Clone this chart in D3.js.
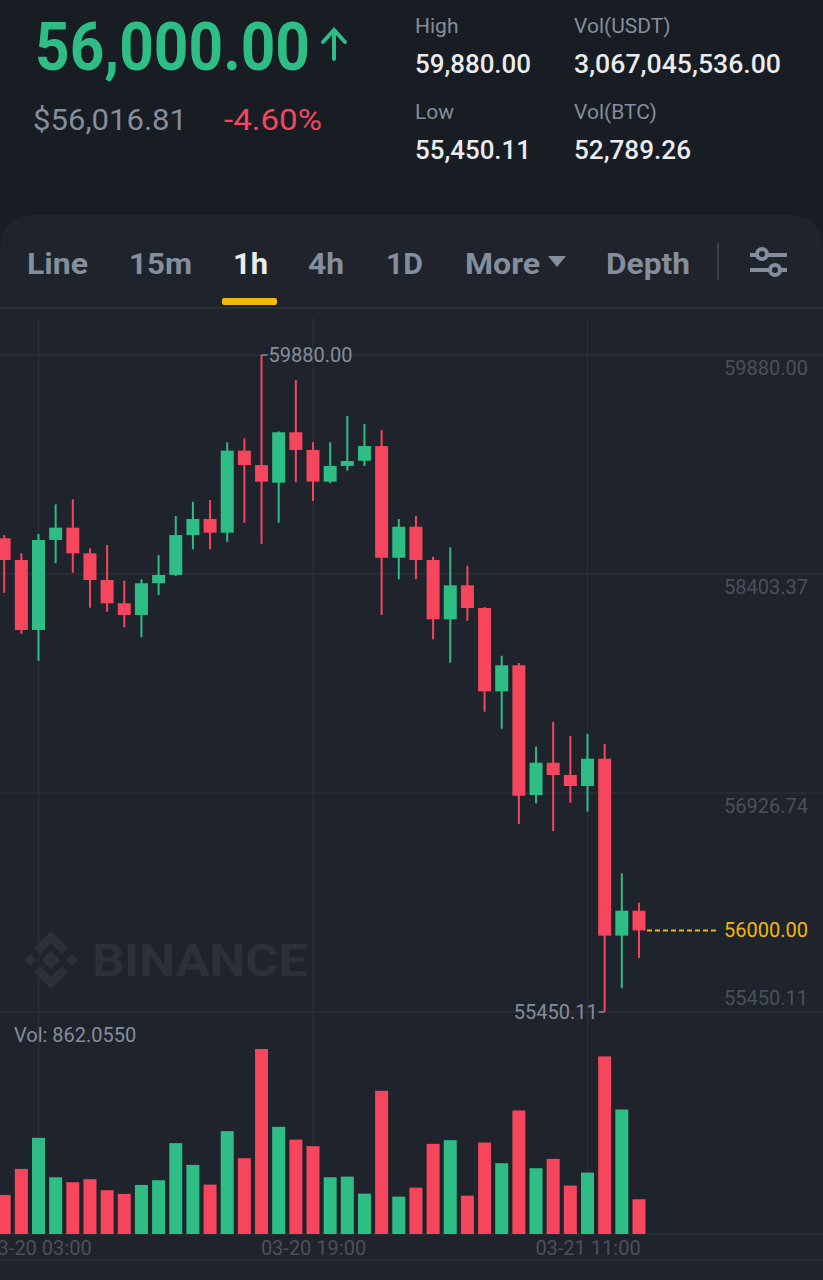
<!DOCTYPE HTML>
<html lang="en">
<head>
<meta charset="utf-8">
<title>BTC/USDT 1h</title>
<style>
html, body {
    margin: 0;
    padding: 0;
    background: #181c23;
}
svg { display: block; }
text { font-family: Roboto, "Noto Sans", sans-serif; }
</style>
</head>
<body>
<div id="chart"></div>

<script src="https://cdnjs.cloudflare.com/ajax/libs/d3/7.8.5/d3.min.js"></script>
<script>
// hourly candles, 03-20 01:00 .. 03-21 14:00
const startHour = new Date(2021, 2, 20, 1);
const open  = [58644, 58498, 58026, 58633, 58716, 58543, 58363, 58206, 58127, 58341, 58397, 58666, 58774, 58682, 59235, 59138, 59019, 59359, 59240, 59026,
               59132, 59167, 59266, 58513, 58722, 58498, 58098, 58327, 58174, 57612, 57788, 56913, 57131, 57048, 56974, 57158, 55965, 56133];
const high  = [58666, 58543, 58673, 58873, 58907, 58577, 58599, 58358, 58368, 58531, 58794, 58891, 58902, 59291, 59318, 59880, 59365, 59711, 59291, 59291,
               59469, 59415, 59374, 58774, 58794, 58520, 58583, 58459, 58180, 57852, 57803, 57239, 57407, 57311, 57325, 57257, 56385, 56187];
const low   = [58277, 57999, 57817, 58476, 58412, 58176, 58149, 58044, 57977, 58262, 58390, 58570, 58570, 58621, 58749, 58606, 58749, 59022, 58896, 59015,
               59100, 59132, 58127, 58368, 58368, 57963, 57805, 58088, 57475, 57360, 56718, 56857, 56670, 56861, 56801, 55450.11, 55610, 55814];
const close = [58498, 58026, 58633, 58716, 58543, 58363, 58206, 58127, 58341, 58397, 58666, 58774, 58682, 59235, 59138, 59026, 59359, 59240, 59026, 59132,
               59165, 59266, 58513, 58722, 58498, 58098, 58327, 58174, 57612, 57788, 56908, 57131, 57048, 56974, 57158, 55965, 56133, 56000];
const volume = [969, 1615, 2385, 1408, 1284, 1359, 1086, 994, 1217, 1334, 2253, 1714, 1225, 2551, 1880, 4588, 2658, 2342, 2178, 1408,
                1423, 1001, 3552, 927, 1150, 2236, 2327, 951, 2268, 1756, 3063, 1632, 1863, 1200, 1523, 4404, 3088, 862.055];

const priceTicks = [59880.00, 58403.37, 56926.74, 55450.11];
const timeTicks = [new Date(2021, 2, 20, 3), new Date(2021, 2, 20, 19), new Date(2021, 2, 21, 11)];
const timeTickFormat = d3.timeFormat('%m-%d %H:%M');

const lastPrice = "56,000.00";
const fiatPrice = "$56,016.81";
const change = "-4.60%";
const statLabels = ["High", "Vol(USDT)", "Low", "Vol(BTC)"];
const statValues = ["59,880.00", "3,067,045,536.00", "55,450.11", "52,789.26"];
const tabs = ["Line", "15m", "1h", "4h", "1D", "More", "Depth"];
const activeTab = "1h";

// colours
const green = '#2ebd85';
const red = '#f6465d';
const yellow = '#f0b90b';
const grey = '#848e9c';
const dim = '#4a505b';
const gridColor = '#2a2f38';

const W = 823, H = 1280;

const svg = d3.select('#chart')
  .append('svg')
  .attr('width', W)
  .attr('height', H);

svg.append('rect').attr('width', W).attr('height', H).attr('fill', '#181c23');

// chart panel with rounded top
svg.append('path')
  .attr('d', 'M0,250 Q0,215 35,215 L788,215 Q823,215 823,250 L823,1280 L0,1280 Z')
  .attr('fill', '#1f232b');

// ---- header ----
svg.append('text')
  .attr('x', 35).attr('y', 70)
  .attr('font-size', 66).attr('font-weight', 700)
  .attr('textLength', 275).attr('lengthAdjust', 'spacingAndGlyphs')
  .attr('fill', green)
  .text(lastPrice);

svg.append('path')
  .attr('d', 'M334,59 L334,31 M323,42 L334,30 L345,42')
  .attr('fill', 'none')
  .attr('stroke', green)
  .attr('stroke-width', 4)
  .attr('stroke-linecap', 'round');

svg.append('text')
  .attr('x', 33).attr('y', 130)
  .attr('font-size', 29)
  .attr('textLength', 154).attr('lengthAdjust', 'spacingAndGlyphs')
  .attr('fill', grey)
  .text(fiatPrice);

svg.append('text')
  .attr('x', 224).attr('y', 130)
  .attr('font-size', 29)
  .attr('textLength', 98).attr('lengthAdjust', 'spacingAndGlyphs')
  .attr('fill', red)
  .text(change);

const statX = [415, 574, 415, 574];
const statY = [33, 33, 119, 119];
const statW = [116, 207, 116, 117];
statLabels.forEach((s, i) => {
  svg.append('text')
    .attr('x', statX[i]).attr('y', statY[i])
    .attr('font-size', 21)
    .attr('fill', grey)
    .text(s);
  svg.append('text')
    .attr('x', statX[i]).attr('y', statY[i] + 40)
    .attr('font-size', 26).attr('font-weight', 500)
    .attr('textLength', statW[i]).attr('lengthAdjust', 'spacingAndGlyphs')
    .attr('fill', '#eaecef')
    .text(statValues[i]);
});

// ---- tab bar ----
const tabX = [27, 129, 233, 308, 386, 465, 606];
const tabW = [61, 63, 35, 36, 37, 75, 84];
const tabG = svg.append('g');
tabG.selectAll('text')
  .data(tabs)
  .enter()
  .append('text')
  .attr('x', (d, i) => tabX[i])
  .attr('y', 274)
  .attr('font-size', 30)
  .attr('font-weight', 700)
  .attr('textLength', (d, i) => tabW[i])
  .attr('lengthAdjust', 'spacingAndGlyphs')
  .attr('fill', d => d === activeTab ? '#eaecef' : grey)
  .text(d => d);

// dropdown triangle after More
svg.append('path').attr('d', 'M548,256 L566,256 L557,267 Z').attr('fill', grey);
// active underline
svg.append('rect').attr('x', 222).attr('y', 298).attr('width', 55).attr('height', 7).attr('rx', 2).attr('fill', yellow);
// divider
svg.append('line').attr('x1', 718).attr('x2', 718).attr('y1', 243).attr('y2', 280).attr('stroke', '#3a3f48').attr('stroke-width', 2);
// settings icon
const icon = svg.append('g').attr('stroke', grey).attr('stroke-width', 4).attr('fill', 'none');
icon.append('line').attr('x1', 750).attr('x2', 787).attr('y1', 255).attr('y2', 255);
icon.append('line').attr('x1', 750).attr('x2', 787).attr('y1', 270).attr('y2', 270);
icon.append('circle').attr('cx', 762).attr('cy', 254).attr('r', 5).attr('fill', '#1f232b');
icon.append('circle').attr('cx', 775).attr('cy', 270).attr('r', 5).attr('fill', '#1f232b');

svg.append('line').attr('x1', 0).attr('x2', W).attr('y1', 308).attr('y2', 308).attr('stroke', gridColor).attr('stroke-width', 2);

// ---- scales ----
const times = open.map((d, i) => d3.timeHour.offset(startHour, i));
const x = d3.scaleTime().domain([timeTicks[0], timeTicks[2]]).range([38.5, 587.5]);
const y = d3.scaleLinear().domain([priceTicks[3], priceTicks[0]]).range([1012, 355]);
const yVol = d3.scaleLinear().domain([0, d3.max(volume)]).range([1234, 1049]);

// watermark
const wm = svg.append('g').attr('fill', '#2c3139');
wm.append('g').attr('transform', 'translate(51,960)')
  .selectAll('path')
  .data([
    'M0,-9 L9,0 L0,9 L-9,0 Z',
    'M-21,-6 L-15,0 L-21,6 L-27,0 Z',
    'M21,-6 L27,0 L21,6 L15,0 Z',
    'M0,-29 L17,-12 L11,-6 L0,-17 L-11,-6 L-17,-12 Z',
    'M0,29 L17,12 L11,6 L0,17 L-11,6 L-17,12 Z'
  ])
  .enter().append('path').attr('d', d => d);
wm.append('text')
  .attr('x', 92).attr('y', 976)
  .attr('font-size', 44).attr('font-weight', 700)
  .attr('textLength', 215).attr('lengthAdjust', 'spacingAndGlyphs')
  .text('BINANCE');

// ---- grid ----
const grid = svg.append('g').attr('stroke', gridColor).attr('stroke-width', 1.5);
grid.selectAll('.hgrid')
  .data(priceTicks)
  .enter().append('line')
  .attr('x1', 0).attr('x2', W)
  .attr('y1', d => y(d)).attr('y2', d => y(d));
grid.selectAll('.vgrid')
  .data(timeTicks)
  .enter().append('line')
  .attr('x1', d => x(d)).attr('x2', d => x(d))
  .attr('y1', 318).attr('y2', 1234);
grid.append('line').attr('x1', 0).attr('x2', W).attr('y1', 1234).attr('y2', 1234);
grid.append('line').attr('x1', 0).attr('x2', W).attr('y1', 1260).attr('y2', 1260);

// price axis labels
const yAxis = d3.axisLeft(y)
  .tickValues(priceTicks)
  .tickFormat(d3.format('.2f'))
  .tickSize(0)
  .tickPadding(15);
const yAxisG = svg.append('g').attr('transform', `translate(${W},0)`).call(yAxis);
yAxisG.select('.domain').remove();
yAxisG.selectAll('text')
  .attr('font-size', 20)
  .attr('font-family', 'Roboto, sans-serif')
  .attr('fill', dim)
  .attr('dy', (d, i) => i === priceTicks.length - 1 ? '-8' : '19');

// time axis labels
const xAxis = d3.axisBottom(x)
  .tickValues(timeTicks)
  .tickFormat(timeTickFormat)
  .tickSize(0)
  .tickPadding(7);
const xAxisG = svg.append('g').attr('transform', 'translate(0,1234)').call(xAxis);
xAxisG.select('.domain').remove();
xAxisG.selectAll('text')
  .attr('font-size', 20)
  .attr('font-family', 'Roboto, sans-serif')
  .attr('fill', dim);

// ---- candles ----
const candles = open.map((o, i) => ({ t: times[i], o: o, h: high[i], l: low[i], c: close[i], v: volume[i] }));
const colorOf = d => d.c >= d.o ? green : red;
const bodyW = 13;

const cg = svg.append('g');
cg.selectAll('.wick')
  .data(candles)
  .enter().append('line')
  .attr('x1', d => x(d.t)).attr('x2', d => x(d.t))
  .attr('y1', d => y(d.h)).attr('y2', d => y(d.l))
  .attr('stroke', colorOf)
  .attr('stroke-width', 2);
cg.selectAll('.body')
  .data(candles)
  .enter().append('rect')
  .attr('x', d => x(d.t) - bodyW / 2)
  .attr('width', bodyW)
  .attr('y', d => y(Math.max(d.o, d.c)))
  .attr('height', d => Math.max(1.5, Math.abs(y(d.o) - y(d.c))))
  .attr('fill', colorOf);

// volume bars
svg.append('g').selectAll('rect')
  .data(candles)
  .enter().append('rect')
  .attr('x', d => x(d.t) - bodyW / 2)
  .attr('width', bodyW)
  .attr('y', d => yVol(d.v))
  .attr('height', d => yVol(0) - yVol(d.v))
  .attr('fill', colorOf);

svg.append('text')
  .attr('x', 14).attr('y', 1042)
  .attr('font-size', 20)
  .attr('fill', grey)
  .text('Vol: ' + d3.format('.4f')(volume[volume.length - 1]));

// high / low markers
const hiIdx = d3.maxIndex(high);
const loIdx = d3.minIndex(low);
const hx = x(times[hiIdx]), hy = y(high[hiIdx]);
svg.append('line').attr('x1', hx).attr('x2', hx + 6).attr('y1', hy).attr('y2', hy).attr('stroke', grey).attr('stroke-width', 1.5);
svg.append('text').attr('x', hx + 7).attr('y', hy + 7)
  .attr('font-size', 20).attr('fill', grey)
  .text(d3.format('.2f')(high[hiIdx]));
const lx = x(times[loIdx]), ly = y(low[loIdx]);
svg.append('line').attr('x1', lx - 6).attr('x2', lx).attr('y1', ly).attr('y2', ly).attr('stroke', grey).attr('stroke-width', 1.5);
svg.append('text').attr('x', lx - 7).attr('y', ly + 7)
  .attr('text-anchor', 'end')
  .attr('font-size', 20).attr('fill', grey)
  .text(d3.format('.2f')(low[loIdx]));

// current price line
const cy = y(close[close.length - 1]);
const cx = x(times[times.length - 1]);
svg.append('line')
  .attr('x1', cx + 8).attr('x2', 716)
  .attr('y1', cy).attr('y2', cy)
  .attr('stroke', yellow)
  .attr('stroke-width', 2)
  .attr('stroke-dasharray', '5,3');
svg.append('text')
  .attr('x', 808).attr('y', cy + 7)
  .attr('text-anchor', 'end')
  .attr('font-size', 20)
  .attr('fill', yellow)
  .text(d3.format('.2f')(close[close.length - 1]));
</script>
</body>
</html>
